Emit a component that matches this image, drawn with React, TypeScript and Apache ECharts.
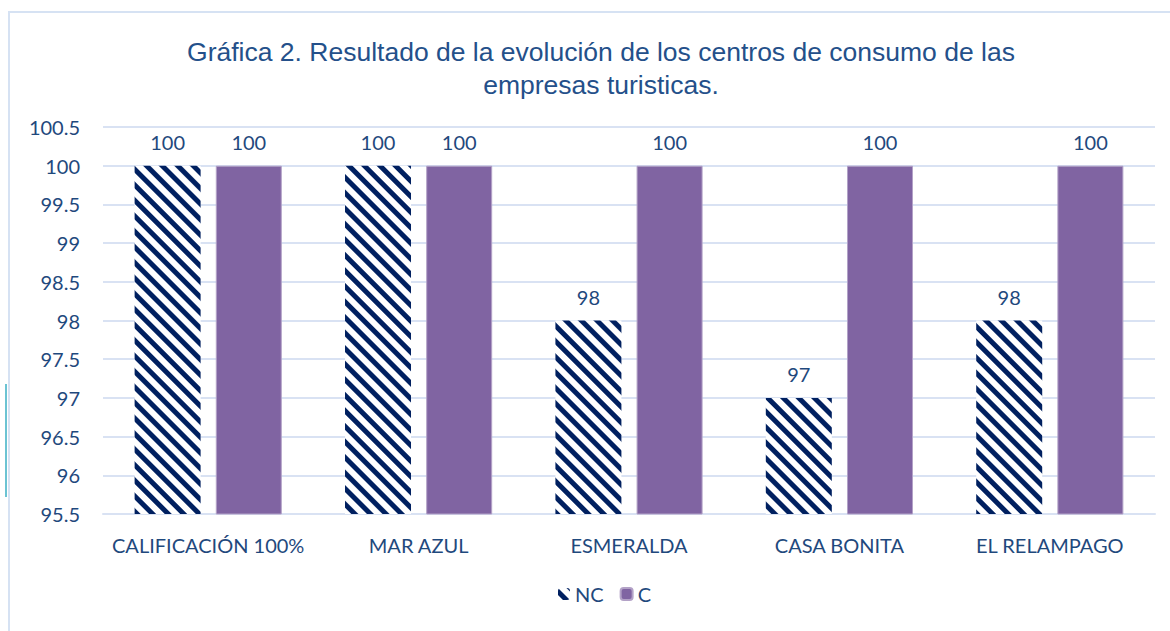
import React, { useEffect, useRef } from "react";
import * as echarts from "echarts";

const categories = ["CALIFICACIÓN 100%", "MAR AZUL", "ESMERALDA", "CASA BONITA", "EL RELAMPAGO"];
const ncValues = [100, 100, 98, 97, 98];
const cValues = [100, 100, 100, 100, 100];
const yMin = 95.5;
const yMax = 100.5;
const yStep = 0.5;
const titleText = "Gráfica 2. Resultado de la evolución de los centros de consumo de las\nempresas turisticas.";

const textColor = "#1F497D";
const axisFont = "Lato, 'Open Sans', sans-serif";
const fs = 20;

export default function App() {
  const ref = useRef<HTMLDivElement>(null);
  useEffect(() => {
    if (!ref.current) return;
    const chart = echarts.init(ref.current, null, { renderer: "svg" });
    chart.setOption({
      animation: false,
      backgroundColor: "#ffffff",
      title: {
        text: titleText,
        left: 596,
        textAlign: "center",
        top: 30,
        textStyle: {
          fontFamily: "'Liberation Sans', Arial, sans-serif",
          fontSize: 26.5,
          fontWeight: "normal",
          color: "#24508A",
          lineHeight: 33,
          align: "center",
        },
      },
      graphic: [
        {
          type: "rect",
          shape: { x: 9, y: 12, width: 1170, height: 640 },
          style: { fill: "none", stroke: "#D6E2F3", lineWidth: 2 },
          silent: true,
        },
        {
          type: "rect",
          shape: { x: 5, y: 384, width: 2, height: 113 },
          style: { fill: "#6BC3D3" },
          silent: true,
        },
      ],
      legend: {
        data: ["NC", "C"],
        bottom: 22,
        left: 553,
        itemWidth: 12,
        itemHeight: 12,
        itemGap: 16,
        textStyle: { color: textColor, fontSize: fs, fontFamily: axisFont },
      },
      grid: { left: 103, right: 15, top: 127, bottom: 117 },
      xAxis: {
        type: "category",
        data: categories,
        axisTick: { show: false },
        axisLine: { show: true, lineStyle: { color: "#D9E2F3", width: 2 } },
        axisLabel: { color: textColor, fontSize: fs, fontFamily: axisFont, margin: 21, interval: 0 },
      },
      yAxis: {
        type: "value",
        min: yMin,
        max: yMax,
        interval: yStep,
        axisLine: { show: false },
        axisTick: { show: false },
        splitLine: { lineStyle: { color: "#D9E2F3", width: 2 } },
        axisLabel: { color: textColor, fontSize: fs, fontFamily: axisFont, margin: 23 },
      },
      series: [
        {
          name: "NC",
          type: "bar",
          data: ncValues,
          barWidth: 66,
          barGap: "23%",
          itemStyle: {
            color: "#ffffff",
            decal: {
              symbol: "rect",
              symbolSize: 1,
              dashArrayX: [1, 0],
              dashArrayY: [5, 6],
              rotation: Math.PI / 4,
              color: "#002060",
            },
          },
          label: {
            show: true,
            position: "top",
            distance: 14,
            color: textColor,
            fontSize: fs,
            fontFamily: axisFont,
          },
        },
        {
          name: "C",
          type: "bar",
          data: cValues,
          barWidth: 66,
          itemStyle: { color: "#8064A2", borderColor: "#B3A2C7", borderWidth: 1 },
          label: {
            show: true,
            position: "top",
            distance: 14,
            color: textColor,
            fontSize: fs,
            fontFamily: axisFont,
          },
        },
      ],
    });
    return () => chart.dispose();
  }, []);
  return (
    <div
      ref={ref}
      style={{ position: "fixed", left: 0, top: 0, width: 1170, height: 631 }}
    />
  );
}
